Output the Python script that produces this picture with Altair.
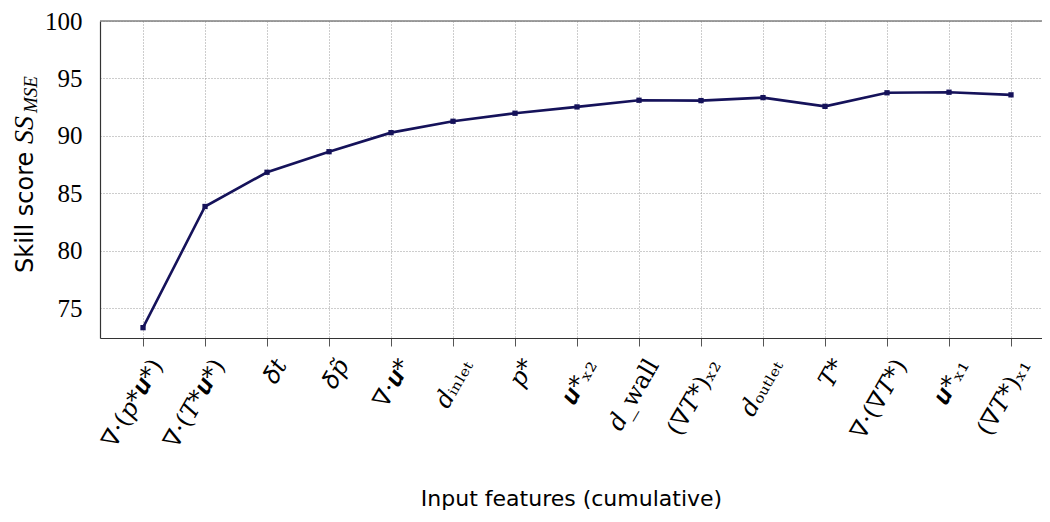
import altair as alt
import pandas as pd

labels = [
    "∇·(𝑝*𝒖*)",
    "∇·(𝑇*𝒖*)",
    "𝛿𝑡",
    "𝛿𝑝̃",
    "∇·𝒖*",
    "𝑑ᵢₙₗₑₜ",
    "𝑝*",
    "𝒖*ₓ₂",
    "𝑑_wall",
    "(∇𝑇*)ₓ₂",
    "𝑑ₒᵤₜₗₑₜ",
    "𝑇*",
    "∇·(∇𝑇*)",
    "𝒖*ₓ₁",
    "(∇𝑇*)ₓ₁",
]
scores = [73.3, 83.85, 86.83, 88.62, 90.28, 91.27, 91.97, 92.52, 93.1,
          93.07, 93.33, 92.57, 93.75, 93.8, 93.57]
y_ticks = [75, 80, 85, 90, 95, 100]
title_parts = ["Skill score", "SS", "MSE"]

df = pd.DataFrame({"idx": list(range(len(labels))), "label": labels, "score": scores})

label_js = "[" + ",".join("'" + s + "'" for s in labels) + "]"

x_enc = alt.X(
    "idx:Q",
    scale=alt.Scale(domain=[-0.694, 14.5], nice=False, zero=False),
    axis=alt.Axis(
        values=list(range(len(labels))),
        labelExpr=label_js + "[datum.value]",
        labelAngle=-60,
        labelFontSize=24,
        labelFont="DejaVu Serif",
        labelColor="black",
        labelOffset=14,
        labelPadding=15,
        labelOverlap=False,
        labelFlush=False,
        ticks=True,
        tickSize=8,
        tickColor="#555555",
        domainColor="#333333",
        domainWidth=1.2,
        grid=True,
        gridColor="#9a9a9a",
        gridDash=[1, 2],
        gridWidth=1,
        title="Input features (cumulative)",
        titleFont="DejaVu Sans",
        titleFontSize=22,
        titleFontWeight="normal",
        titleColor="black",
        titleY=160,
        titleBaseline="middle",
    ),
)

y_enc = alt.Y(
    "score:Q",
    scale=alt.Scale(domain=[72.4, 100], nice=False, zero=False),
    axis=alt.Axis(
        values=y_ticks,
        labelFont="Liberation Serif",
        labelFontSize=25,
        labelColor="black",
        labelPadding=18,
        ticks=False,
        domainColor="#333333",
        domainWidth=1.2,
        grid=True,
        gridColor="#9a9a9a",
        gridDash=[1, 2],
        gridWidth=1,
        title=None,
    ),
)

line = alt.Chart(df).mark_line(
    color="#15125a",
    strokeWidth=2.6,
    point=alt.OverlayMarkDef(shape="square", size=28, filled=True, color="#15125a", opacity=1),
).encode(x=x_enc, y=y_enc)

top_rule = alt.Chart(pd.DataFrame({"v": [100]})).mark_rule(
    color="#808080", strokeWidth=1.6
).encode(y=alt.Y("v:Q"))

title_a = alt.Chart(pd.DataFrame({"t": [title_parts[0]]})).mark_text(
    font="DejaVu Sans", fontSize=24, angle=270, align="left", baseline="alphabetic", color="black"
).encode(text="t:N", x=alt.value(-67), y=alt.value(252))

title_b = alt.Chart(pd.DataFrame({"t": [title_parts[1]]})).mark_text(
    font="Liberation Serif", fontSize=28, fontStyle="italic", angle=270, align="left",
    baseline="alphabetic", color="black"
).encode(text="t:N", x=alt.value(-67), y=alt.value(123))

title_c = alt.Chart(pd.DataFrame({"t": [title_parts[2]]})).mark_text(
    font="Liberation Serif", fontSize=19, fontStyle="italic", angle=270, align="left",
    baseline="alphabetic", color="black"
).encode(text="t:N", x=alt.value(-63), y=alt.value(92))

chart = alt.layer(line, top_rule, title_a, title_b, title_c).properties(
    width=942,
    height=317,
    autosize=alt.AutoSizeParams(type="none"),
    padding={"left": 92, "top": 13, "right": 0, "bottom": 174},
).configure_view(stroke=None)

chart.save("out.html", embed_options={"renderer": "svg", "actions": False})
